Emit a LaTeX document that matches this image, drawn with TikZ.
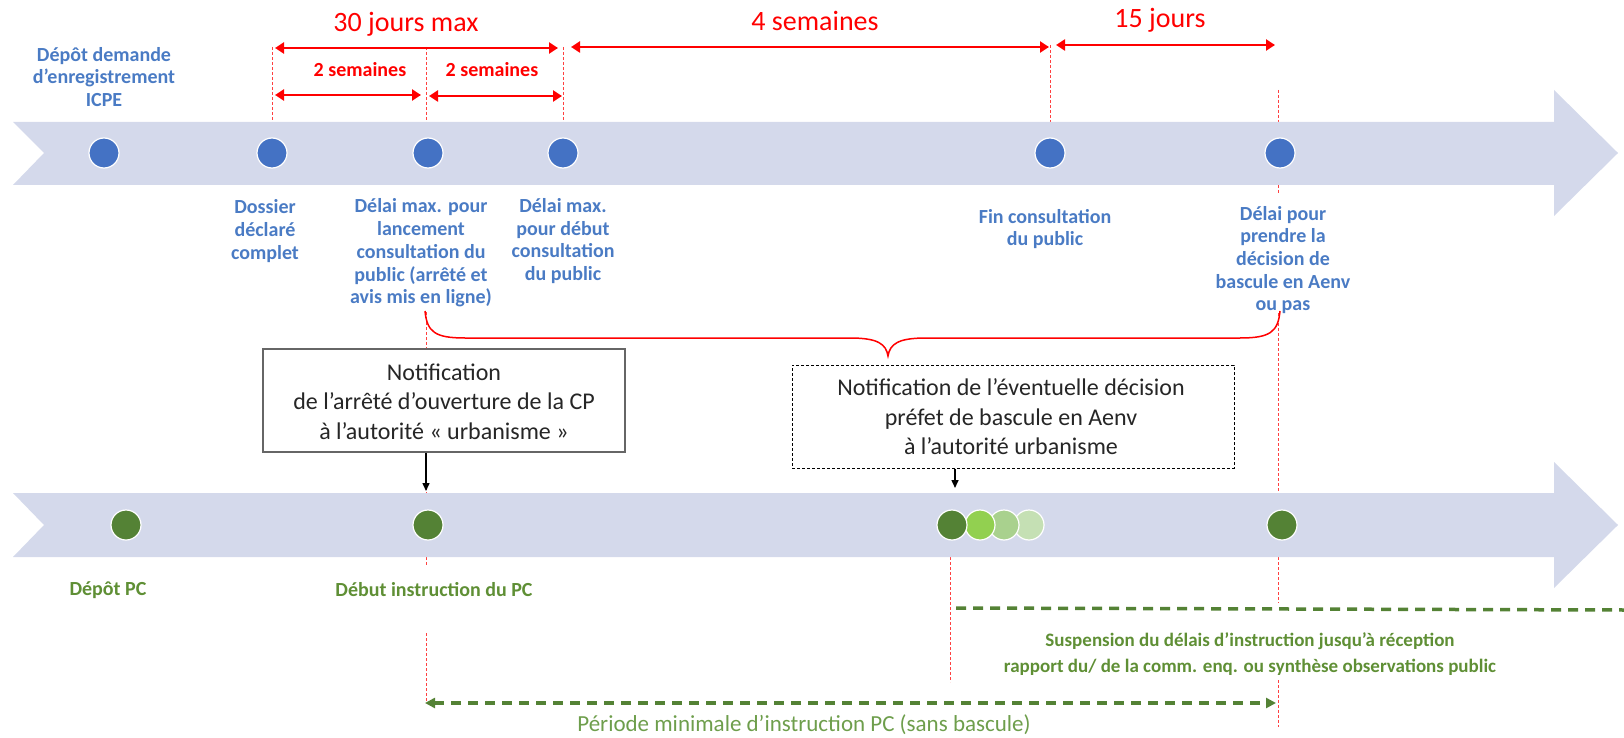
\documentclass[tikz,border=0pt]{standalone}
\usepackage{fontspec}
\setmainfont{Carlito}
\usetikzlibrary{arrows.meta}
\definecolor{bandc}{HTML}{D4D9EB}
\definecolor{dotblue}{HTML}{4472C4}
\definecolor{txtblue}{HTML}{4A7BC4}
\definecolor{dotgreen}{HTML}{548235}
\definecolor{lg1}{HTML}{92D050}
\definecolor{lg2}{HTML}{A9D18E}
\definecolor{lg3}{HTML}{C5E0B4}
\definecolor{txtgreen}{HTML}{5F8F35}
\definecolor{pergreen}{HTML}{6E9E4C}
\definecolor{boxtxt}{HTML}{262626}
\begin{document}
\begin{tikzpicture}[x=1pt,y=-1pt,
  redarr/.style={red, line width=2.6pt, {Triangle[length=9pt,width=11pt]}-{Triangle[length=9pt,width=11pt]}},
  reddash/.style={red!75, line width=0.8pt, dash pattern=on 3pt off 2pt},
  redbig/.style={text=red, font=\fontsize{28}{30}\selectfont, inner sep=0},
  redsmall/.style={text=red, font=\bfseries\fontsize{20}{22}\selectfont, inner sep=0},
  bluelab/.style={text=txtblue, font=\bfseries\fontsize{20}{22.7}\selectfont, align=center, inner sep=0},
  greenlab/.style={text=txtgreen, font=\bfseries\fontsize{20}{26}\selectfont, align=center, inner sep=0},
  dotb/.style={circle, fill=dotblue, draw=white, line width=1.2pt, minimum size=30pt, inner sep=0},
  dotg/.style={circle, fill=#1, draw=white, line width=1.2pt, minimum size=30pt, inner sep=0},
  boxtext/.style={text=boxtxt, font=\fontsize{24}{29.5}\selectfont, align=center, inner sep=0},
  greendash/.style={dotgreen, line width=3.5pt, dash pattern=on 10pt off 7pt},
  blackarr/.style={black, line width=1.5pt, -{Triangle[length=8pt,width=7pt]}}
]
\useasboundingbox (0,0) rectangle (1624,738);

% ---- red dashed verticals ----
\draw[reddash] (272,47) -- (272,122);
\draw[reddash] (426,47) -- (426,122);
\draw[reddash] (426,312) -- (426,349);
\draw[reddash] (426,452) -- (426,493);
\draw[reddash] (426,557) -- (426,566);
\draw[reddash] (426,633) -- (426,703);
\draw[reddash] (563,47) -- (563,122);
\draw[reddash] (1050,45) -- (1050,122);
\draw[reddash] (1278,90) -- (1278,122);
\draw[reddash] (1278,185) -- (1278,193);
\draw[reddash] (1278,313) -- (1278,493);
\draw[reddash] (1278,557) -- (1278,603);
\draw[reddash] (1278,680) -- (1278,727);
\draw[reddash] (950,557) -- (950,682);

% ---- bands ----
\fill[bandc] (13,122) -- (1554,122) -- (1554,90) -- (1618,153) -- (1554,216) -- (1554,185) -- (13,185) -- (44,153) -- cycle;
\fill[bandc] (13,493) -- (1554,493) -- (1554,462) -- (1618,525) -- (1554,588) -- (1554,557) -- (13,557) -- (44,525) -- cycle;

% ---- top dots ----
\node[dotb] (d1) at (104,153) {};
\node[dotb] (d2) at (272,153) {};
\node[dotb] (d3) at (428,153) {};
\node[dotb] (d4) at (563,153) {};
\node[dotb] (d5) at (1050,153) {};
\node[dotb] (d6) at (1280,153) {};

% ---- bottom dots ----
\node[dotg=dotgreen] (g1) at (126,525) {};
\node[dotg=dotgreen] (g2) at (428,525) {};
\node[dotg=lg3] (g6) at (1029,525) {};
\node[dotg=lg2] (g5) at (1004,525) {};
\node[dotg=lg1] (g4) at (980,525) {};
\node[dotg=dotgreen] (g3) at (952,525) {};
\node[dotg=dotgreen] (g7) at (1282,525) {};

% ---- red duration arrows ----
\coordinate (r30a) at (275,48);  \coordinate (r30b) at (558,48);
\coordinate (r2aa) at (275,95);  \coordinate (r2ab) at (421,95);
\coordinate (r2ba) at (429,96);  \coordinate (r2bb) at (562,96);
\coordinate (r4a) at (571,47);   \coordinate (r4b) at (1049,47);
\coordinate (r15a) at (1056,45); \coordinate (r15b) at (1275,45);
\draw[redarr] (r30a) -- (r30b);
\draw[redarr] (r2aa) -- (r2ab);
\draw[redarr] (r2ba) -- (r2bb);
\draw[redarr] (r4a) -- (r4b);
\draw[redarr] (r15a) -- (r15b);
\node[redbig] (t30) at (406,24) {30 jours max};
\node[redsmall] (t2a) at (360,70) {2 semaines};
\node[redsmall] (t2b) at (492,70) {2 semaines};
\node[redbig] (t4) at (815,21) {4 semaines};
\node[redbig] (t15) at (1160,20) {15 jours};

% ---- blue labels ----
\node[bluelab] (l1) at (104,77) {Dépôt demande\\d’enregistrement\\ICPE};
\node[bluelab] (l2) at (265,231) {Dossier\\déclaré\\complet};
\node[bluelab] (l3) at (421,253) {Délai max. pour\\lancement\\consultation du\\public (arrêté et\\avis mis en ligne)};
\node[bluelab] (l4) at (563,241) {Délai max.\\pour début\\consultation\\du public};
\node[bluelab] (l5) at (1045,229) {Fin consultation\\du public};
\node[bluelab] (l6) at (1283,260) {Délai pour\\prendre la\\décision de\\bascule en Aenv\\ou pas};

% ---- brace ----
\draw[red, line width=1.5pt] (425,311) .. controls (427,332) and (435,338) .. (465,338) -- (850,338) .. controls (878,338) and (886,344) .. (888,356) .. controls (890,344) and (898,338) .. (926,338) -- (1240,338) .. controls (1270,338) and (1278,332) .. (1280,311);

% ---- boxes ----
\node[draw=black!60, line width=1.5pt, fill=white, minimum width=362pt, minimum height=103pt, inner sep=0] (b1) at (444,400.5) {};
\node[boxtext] (b1t) at (444,401.5) {Notification\\de l’arrêté d’ouverture de la CP\\à l’autorité « urbanisme »};
\node[draw=black, line width=1pt, dash pattern=on 3pt off 2pt, fill=white, minimum width=442pt, minimum height=103pt, inner sep=0] (b2) at (1013,416.5) {};
\node[boxtext] (b2t) at (1011,417) {Notification de l’éventuelle décision\\préfet de bascule en Aenv\\à l’autorité urbanisme};

\coordinate (a1e) at (426,491);
\coordinate (a2e) at (955,488);
\draw[blackarr] (b1.south -| a1e) -- (a1e);
\draw[blackarr] (b2.south -| a2e) -- (a2e);

% ---- green labels ----
\node[greenlab] (gl1) at (108,590) {Dépôt PC};
\node[greenlab] (gl2) at (434,590) {Début instruction du PC};
\node[greenlab, font=\bfseries\fontsize{19}{26}\selectfont] (gl3) at (1250,654) {Suspension du délais d’instruction jusqu’à réception\\rapport du/ de la comm. enq. ou synthèse observations public};

% ---- green dashed lines ----
\coordinate (s1) at (956,608);
\coordinate (s2) at (1624,610);
\draw[greendash] (s1) -- (s2);
\coordinate (p1) at (425,703);
\coordinate (p2) at (1276,703);
\draw[greendash, {Triangle[length=10pt,width=10pt]}-{Triangle[length=10pt,width=10pt]}] (p1) -- (p2);
\node[text=pergreen, font=\fontsize{23}{26}\selectfont, inner sep=0] (per) at (804,725) {Période minimale d’instruction PC (sans bascule)};
\end{tikzpicture}
\end{document}
